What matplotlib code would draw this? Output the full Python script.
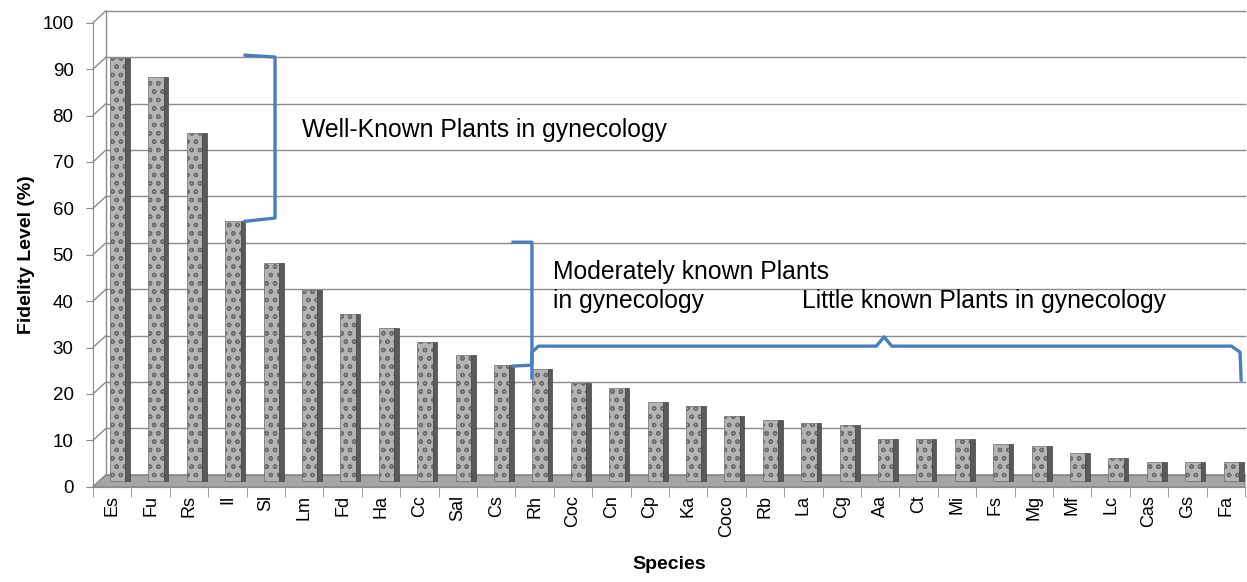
import matplotlib
matplotlib.use('Agg')
import matplotlib.pyplot as plt
from matplotlib.transforms import ScaledTranslation

plt.rcParams['font.family'] = ['Liberation Sans', 'DejaVu Sans']
plt.rcParams['hatch.linewidth'] = 0.9

species = ['Es', 'Fu', 'Rs', 'Il', 'Sl', 'Lm', 'Fd', 'Ha', 'Cc', 'Sal', 'Cs', 'Rh', 'Coc', 'Cn', 'Cp',
           'Ka', 'Coco', 'Rb', 'La', 'Cg', 'Aa', 'Ct', 'Mi', 'Fs', 'Mg', 'Mf', 'Lc', 'Cas', 'Gs', 'Fa']
fidelity = [91, 87, 75, 56, 47, 41, 36, 33, 30, 27, 25, 24, 21, 20, 17,
            16, 14, 13, 12.5, 12, 9, 9, 9, 8, 7.5, 6, 5, 4, 4, 4]
y_ticks = [0, 10, 20, 30, 40, 50, 60, 70, 80, 90, 100]

grid_col = '#8c8c8c'
blue = '#4a7ebb'

fig = plt.figure(figsize=(12.47, 5.82), dpi=100)
ax = fig.add_axes([0.0746, 0.1637, 0.9238, 0.7973])
x = list(range(len(species)))

# back wall of the 3d look: gridlines pushed up/right a bit
dx = 13 / 1152
dy = 12 / 4.64
ytr = ax.get_yaxis_transform()
for t in y_ticks:
    ax.plot([0, dx], [t, t + dy], color=grid_col, lw=1, transform=ytr, clip_on=False)
    ax.plot([dx, 1], [t + dy, t + dy], color=grid_col, lw=1, transform=ytr, clip_on=False)
ax.plot([dx, dx], [dy, 100 + dy], color=grid_col, lw=1, transform=ytr, clip_on=False)
ax.fill([0, dx, 1, 1], [0, dy, dy, 0], color='#a6a6a6', ec='#8c8c8c', lw=0.8,
        transform=ytr, clip_on=False, zorder=1)

# bars, shifted half the depth
shift = ax.transData + ScaledTranslation(0.055, 0.06, fig.dpi_scale_trans)
ax.bar(x, fidelity, width=0.40, color='#b4b4b4', edgecolor='#6b6b6b', hatch='oo',
       linewidth=0.5, transform=shift, zorder=3)
ax.bar([i + 0.26 for i in x], fidelity, width=0.12, color='#5a5a5a', edgecolor='#444444',
       linewidth=0.5, transform=shift, zorder=3)

# brackets
ax.plot([3.46, 4.24, 4.24, 3.46], [93.0, 92.6, 57.9, 57.2], color=blue, lw=2.4,
        solid_joinstyle='round', zorder=4)
ax.plot([10.44, 10.93, 10.93, 10.44], [52.7, 52.7, 26.2, 26.0], color=blue, lw=2.4,
        solid_joinstyle='round', zorder=4)
ax.plot([10.93, 10.93, 11.1, 19.9, 20.1, 20.3, 29.15, 29.37, 29.4],
        [23.4, 29.0, 30.3, 30.3, 32.3, 30.3, 30.3, 29.0, 23.0], color=blue, lw=2.4,
        solid_joinstyle='round', zorder=4)

ax.text(4.94, 76.9, 'Well-Known Plants in gynecology', fontsize=17.8, va='center')
ax.text(11.48, 46.3, 'Moderately known Plants', fontsize=17.8, va='center')
ax.text(11.48, 40.0, 'in gynecology', fontsize=17.8, va='center')
ax.text(17.96, 40.0, 'Little known Plants in gynecology', fontsize=17.8, va='center')

ax.set_xlim(-0.5, len(species) - 0.5)
ax.set_ylim(0, 100)
ax.set_yticks(y_ticks)
ax.set_xticks(x)
ax.set_xticklabels(species, rotation=90, fontsize=13)
ax.set_xticks([i - 0.5 for i in range(len(species) + 1)], minor=True)
ax.tick_params(axis='x', which='major', length=0, pad=6)
ax.tick_params(axis='x', which='minor', length=7, color=grid_col)
ax.tick_params(axis='y', length=5, color=grid_col, labelsize=13.5, pad=9)

for s in ['top', 'right']:
    ax.spines[s].set_visible(False)
ax.spines['left'].set_color(grid_col)
ax.spines['bottom'].set_color(grid_col)

ax.set_ylabel('Fidelity Level (%)', fontsize=14, fontweight='bold', labelpad=5)
ax.set_xlabel('Species', fontsize=14, fontweight='bold', labelpad=14)

fig.savefig('out.png', dpi=100)
